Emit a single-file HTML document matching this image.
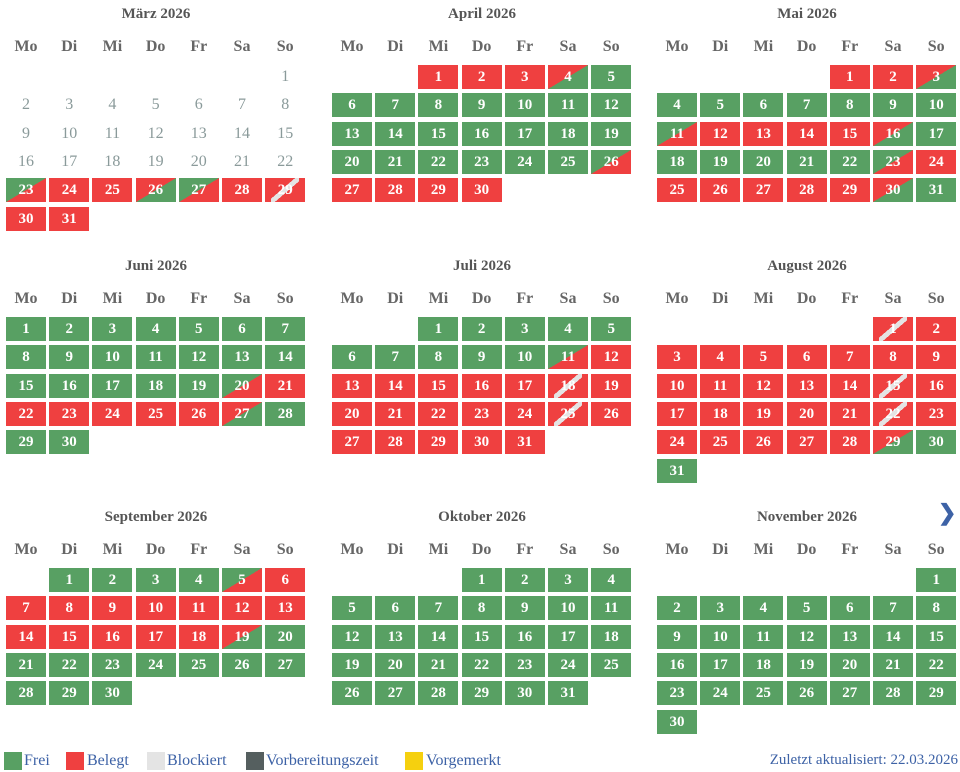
<!DOCTYPE html>
<html><head><meta charset="utf-8"><style>
body{margin:0;width:960px;height:772px;background:#fff;position:relative;overflow:hidden;font-family:"Liberation Serif",serif}
.t{position:absolute;font-weight:bold;color:#555;font-size:15px;text-align:center;width:300px}
.h{position:absolute;font-weight:bold;color:#666;font-size:16px;text-align:center;width:40px}
.c{position:absolute;width:40px;height:24px;line-height:24px;text-align:center;color:#fff;font-weight:bold;font-size:15px}
.n{color:#8a9a9a;font-weight:normal;font-size:16px}
.g{background:#58a063}.r{background:#ef4040}
.gr{background:linear-gradient(to bottom right,#58a063 50%,#ef4040 50%)}
.rg{background:linear-gradient(to bottom right,#ef4040 50%,#58a063 50%)}
.x::after{content:"";position:absolute;left:6px;top:0;right:6px;bottom:0;background:linear-gradient(to bottom right,transparent calc(50% - 2.5px),#e4e4e4 calc(50% - 2.5px),#e4e4e4 calc(50% + 2.5px),transparent calc(50% + 2.5px))}
.c span{position:relative;z-index:1}
.lg{position:absolute;top:752px;width:18px;height:18px}
.lt{position:absolute;top:752px;color:#3d62a6;font-size:16px}
</style></head><body>
<div id="cal"></div>
<div class="lg" style="left:4px;background:#58a063"></div><div class="lt" style="left:24px">Frei</div>
<div class="lg" style="left:66px;background:#ef4040"></div><div class="lt" style="left:87px">Belegt</div>
<div class="lg" style="left:147px;background:#e4e4e4"></div><div class="lt" style="left:167px">Blockiert</div>
<div class="lg" style="left:246px;background:#555f5f"></div><div class="lt" style="left:266px">Vorbereitungszeit</div>
<div class="lg" style="left:405px;background:#f5d00f"></div><div class="lt" style="left:426px">Vorgemerkt</div>
<div class="lt" style="right:2px;left:auto;font-size:15px">Zuletzt aktualisiert: 22.03.2026</div>
<div style="position:absolute;left:938px;top:500px;color:#3d62a6;font-size:22px;font-weight:bold">&#10095;</div>
<script>
function fill(n,def,ov){var a=[];for(var i=1;i<=n;i++)a.push(ov[i]||def);return a;}
var M=[
["März 2026",6,fill(31,"n",{23:"gr",24:"r",25:"r",26:"rg",27:"gr",28:"r",29:"r x",30:"r",31:"r"})],
["April 2026",2,fill(30,"g",{1:"r",2:"r",3:"r",4:"rg",26:"gr",27:"r",28:"r",29:"r",30:"r"})],
["Mai 2026",4,fill(31,"r",{3:"rg",4:"g",5:"g",6:"g",7:"g",8:"g",9:"g",10:"g",11:"gr",16:"rg",17:"g",18:"g",19:"g",20:"g",21:"g",22:"g",23:"gr",30:"rg",31:"g"})],
["Juni 2026",0,fill(30,"g",{20:"gr",21:"r",22:"r",23:"r",24:"r",25:"r",26:"r",27:"rg"})],
["Juli 2026",2,fill(31,"r",{1:"g",2:"g",3:"g",4:"g",5:"g",6:"g",7:"g",8:"g",9:"g",10:"g",11:"gr",18:"r x",25:"r x"})],
["August 2026",5,fill(31,"r",{1:"r x",15:"r x",22:"r x",29:"rg",30:"g",31:"g"})],
["September 2026",1,fill(30,"g",{5:"gr",6:"r",7:"r",8:"r",9:"r",10:"r",11:"r",12:"r",13:"r",14:"r",15:"r",16:"r",17:"r",18:"r",19:"rg"})],
["Oktober 2026",3,fill(31,"g",{})],
["November 2026",6,fill(30,"g",{})]];
var X=[6,332,657],Y=[0,252,503],D=["Mo","Di","Mi","Do","Fr","Sa","So"],h="";
M.forEach(function(m,k){var bx=X[k%3],by=Y[Math.floor(k/3)];
h+='<div class="t" style="left:'+(bx)+'px;top:'+(by+6)+'px">'+m[0]+'</div>';
D.forEach(function(d,i){h+='<div class="h" style="left:'+(bx+i*43.2)+'px;top:'+(by+38)+'px">'+d+'</div>';});
m[2].forEach(function(s,j){var p=j+m[1],col=p%7,row=Math.floor(p/7);
h+='<div class="c '+s+'" style="left:'+(bx+col*43.2)+'px;top:'+(by+65+row*28.3)+'px"><span>'+(j+1)+'</span></div>';});});
document.getElementById("cal").innerHTML=h;
</script>
</body></html>
